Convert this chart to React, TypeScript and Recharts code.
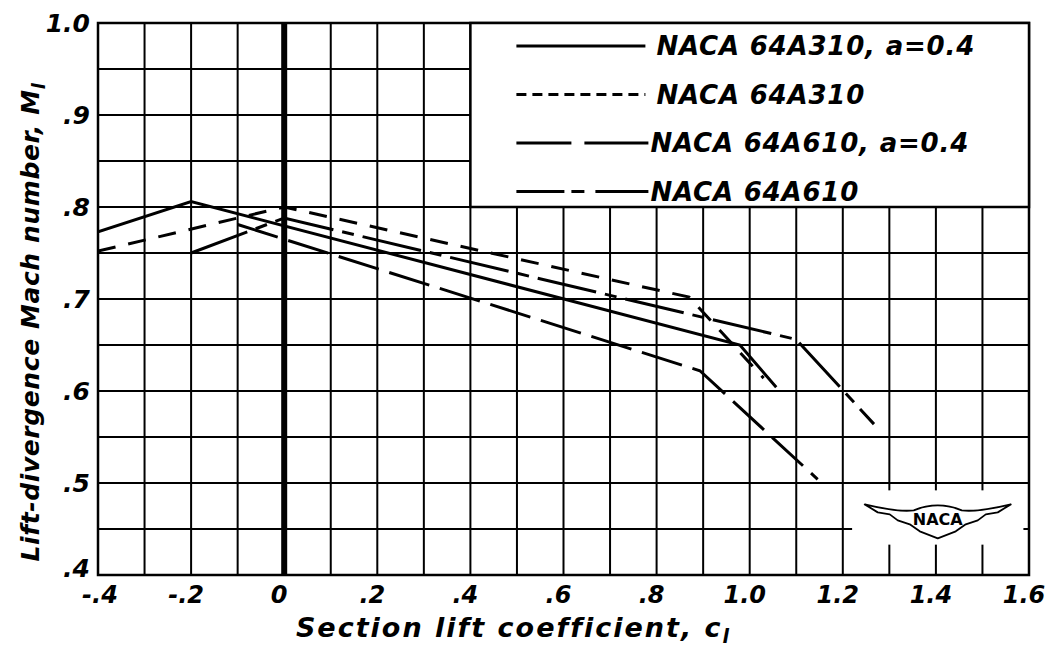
import React from 'react';
import { LineChart, Line, XAxis, YAxis, CartesianGrid, ReferenceLine, ReferenceArea } from 'recharts';

// ---- axis ticks / labels ----
const xGridValues = [-0.4, -0.3, -0.2, -0.1, 0, 0.1, 0.2, 0.3, 0.4, 0.5, 0.6, 0.7, 0.8, 0.9, 1.0, 1.1, 1.2, 1.3, 1.4, 1.5, 1.6];
const xLabelValues = [-0.4, -0.2, 0, 0.2, 0.4, 0.6, 0.8, 1.0, 1.2, 1.4, 1.6];
const xLabelTexts = ['-.4', '-.2', '0', '.2', '.4', '.6', '.8', '1.0', '1.2', '1.4', '1.6'];
const yGridValues = [0.4, 0.45, 0.5, 0.55, 0.6, 0.65, 0.7, 0.75, 0.8, 0.85, 0.9, 0.95, 1.0];
const yLabelValues = [0.4, 0.5, 0.6, 0.7, 0.8, 0.9, 1.0];
const yLabelTexts = ['.4', '.5', '.6', '.7', '.8', '.9', '1.0'];

// ---- series ----
const seriesNames = ['NACA 64A310, a=0.4', 'NACA 64A310', 'NACA 64A610, a=0.4', 'NACA 64A610'];

const a310a04Cl = [-0.4, -0.2, 0.979, 1.057];
const a310a04M = [0.773, 0.806, 0.65, 0.604];

const a310Cl = [-0.4, 0.0, 0.87, 1.03];
const a310M = [0.752, 0.8, 0.702, 0.614];

const a610a04Cl = [-0.1, 0.893, 1.146];
const a610a04M = [0.781, 0.622, 0.504];

const a610Cl = [-0.2, 0.0, 1.1, 1.267];
const a610M = [0.75, 0.788, 0.656, 0.564];

const toPts = (cl: number[], m: number[]) => cl.map((c, i) => ({ cl: c, m: m[i] }));

const FONT = '"DejaVu Sans", sans-serif';
const textStyle: React.CSSProperties = { fontFamily: FONT, fontStyle: 'italic', fontWeight: 'bold' };

const plotDash = ['', '18 13', '42 11', '60 9 12 9'];
const legendDash = ['', '10 6', '55 13 70', '48 7 13 11 60'];
const legendLineEnd = [175, 175, 178, 178];
const legendTextX = [186, 186, 180, 180];

const XTick = (props: any) => {
  const { x, y, payload } = props;
  const i = xLabelValues.findIndex((v) => Math.abs(v - payload.value) < 1e-6);
  if (i < 0) return <g />;
  return (
    <text x={x} y={y} dx={i === 0 ? 2 : -5} dy={20} textAnchor="middle" fontSize={24} fill="#000" style={textStyle}>
      {xLabelTexts[i]}
    </text>
  );
};

const YTick = (props: any) => {
  const { x, y, payload } = props;
  const i = yLabelValues.findIndex((v) => Math.abs(v - payload.value) < 1e-6);
  if (i < 0) return <g />;
  return (
    <text x={x} y={y} dy={i === 0 ? 2 : 9} textAnchor="end" fontSize={25} fill="#000" style={textStyle}>
      {yLabelTexts[i]}
    </text>
  );
};

const LegendBox = (props: any) => {
  const { x, y, width, height } = props;
  return (
    <g>
      <rect x={x} y={y} width={width} height={height} fill="#fff" stroke="#000" strokeWidth={2.5} />
      {seriesNames.map((name, i) => {
        const cy = y + 23 + i * 48.5;
        return (
          <g key={name}>
            <line x1={x + 46} x2={x + legendLineEnd[i]} y1={cy} y2={cy} stroke="#000" strokeWidth={3}
              strokeDasharray={legendDash[i] || undefined} />
            <text x={x + legendTextX[i]} y={cy} dy={9} fontSize={26} fill="#000" style={{ ...textStyle, letterSpacing: 0.8 }}>
              {name}
            </text>
          </g>
        );
      })}
    </g>
  );
};

const LogoBox = (props: any) => {
  const { x, y, width, height } = props;
  const cx = x + width / 2;
  return (
    <g>
      <rect x={x} y={y} width={width} height={height} fill="#fff" />
      <path
        d={`M ${cx - 73} ${y + 14} Q ${cx - 40} ${y + 22} ${cx - 24} ${y + 20} Q ${cx} ${y + 10} ${cx + 24} ${y + 20} Q ${cx + 40} ${y + 22} ${cx + 73} ${y + 14}
            L ${cx + 60} ${y + 22} L ${cx + 48} ${y + 24} L ${cx + 40} ${y + 30} L ${cx + 28} ${y + 34} L ${cx + 18} ${y + 41} L ${cx} ${y + 48}
            L ${cx - 18} ${y + 41} L ${cx - 28} ${y + 34} L ${cx - 40} ${y + 30} L ${cx - 48} ${y + 24} L ${cx - 60} ${y + 22} Z`}
        fill="#fff" stroke="#000" strokeWidth={1.8} strokeLinejoin="round" />
      <text x={cx} y={y + 29} dy={6} textAnchor="middle" fontSize={16} fill="#000"
        style={{ fontFamily: FONT, fontWeight: 'bold' }}>NACA</text>
    </g>
  );
};

const YTitle = (props: any) => {
  const { viewBox } = props;
  const cx = viewBox.x + 30;
  const cy = viewBox.y + viewBox.height / 2 + 23;
  return (
    <text x={cx} y={cy} transform={`rotate(-90 ${cx} ${cy})`} textAnchor="middle" dy={9} fontSize={25} fill="#000"
      style={{ ...textStyle, letterSpacing: 0.6 }}>
      Lift-divergence Mach number, M<tspan fontSize={18} dy={6}>l</tspan>
    </text>
  );
};

const XTitle = (props: any) => {
  const { viewBox } = props;
  const cx = viewBox.x + viewBox.width / 2 - 50;
  const cy = viewBox.y + 53;
  return (
    <text x={cx} y={cy} textAnchor="middle" dy={9} fontSize={27} fill="#000" style={{ ...textStyle, letterSpacing: 2 }}>
      Section lift coefficient, c<tspan fontSize={19} dy={6}>l</tspan>
    </text>
  );
};

export default function App() {
  const series = [
    toPts(a310a04Cl, a310a04M),
    toPts(a310Cl, a310M),
    toPts(a610a04Cl, a610a04M),
    toPts(a610Cl, a610M),
  ];
  return (
    <div style={{ position: 'absolute', left: 0, top: 0, width: 1047, height: 653, background: '#fff' }}>
      <LineChart width={1047} height={653} margin={{ top: 23, right: 18, left: 0, bottom: 0 }}>
        <CartesianGrid stroke="#000" strokeWidth={2} />
        <XAxis type="number" dataKey="cl" domain={[-0.4, 1.6]} ticks={xGridValues} interval={0}
          axisLine={false} tickLine={false} tickSize={0} tickMargin={8} height={78} tick={<XTick />}
          allowDataOverflow label={<XTitle />} />
        <YAxis type="number" dataKey="m" domain={[0.4, 1.0]} ticks={yGridValues} interval={0}
          axisLine={false} tickLine={false} tickSize={0} tickMargin={8} width={98} tick={<YTick />}
          allowDataOverflow label={<YTitle />} />
        <ReferenceArea x1={-0.4} x2={1.6} y1={0.4} y2={1.0} fill="none" stroke="#000" strokeWidth={2.5} fillOpacity={0} />
        <ReferenceLine x={0} stroke="#000" strokeWidth={6} />
        <ReferenceArea x1={1.22} x2={1.588} y1={0.433} y2={0.492} shape={<LogoBox />} />
        <ReferenceArea x1={0.4} x2={1.6} y1={0.8} y2={1.0} shape={<LegendBox />} />
        {series.map((pts, i) => (
          <Line key={seriesNames[i]} data={pts} dataKey="m" type="linear" stroke="#000" strokeWidth={3}
            strokeDasharray={plotDash[i] || undefined} dot={false} activeDot={false} isAnimationActive={false}
            name={seriesNames[i]} />
        ))}
      </LineChart>
    </div>
  );
}
